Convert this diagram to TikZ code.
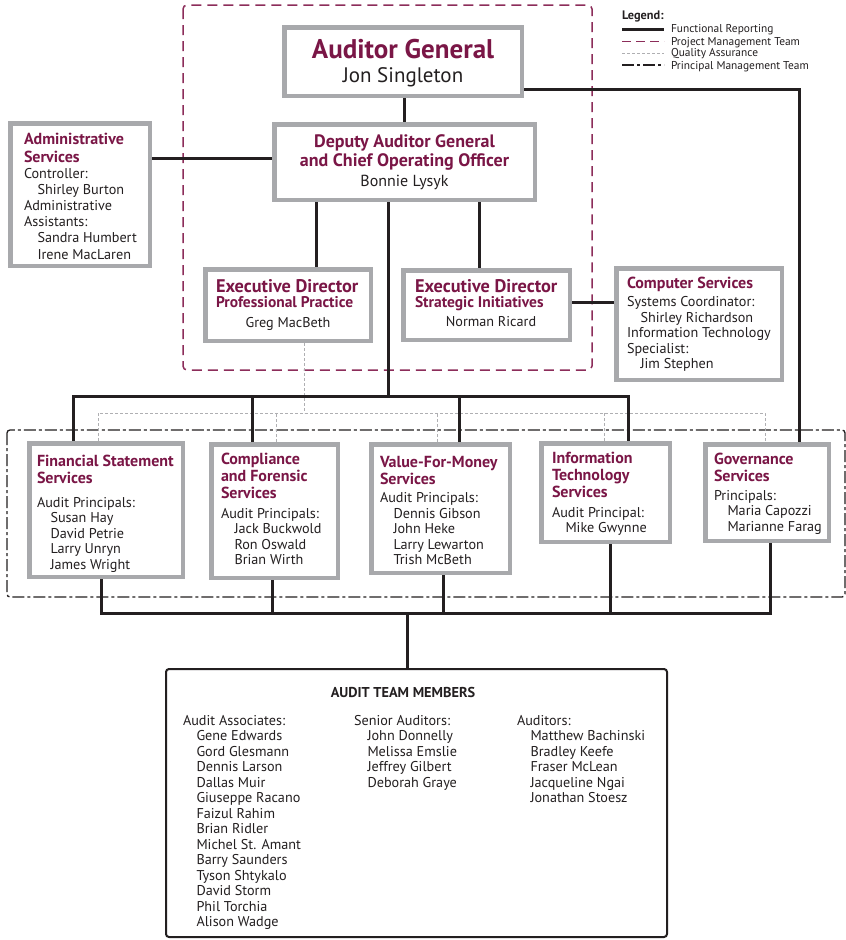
\documentclass[tikz,border=0pt]{standalone}
\usepackage{fontspec}
\setmainfont{PT Sans}
\definecolor{maroon}{RGB}{122,22,70}
\definecolor{pmtcol}{RGB}{140,45,90}
\definecolor{boxgray}{RGB}{168,169,172}
\definecolor{linek}{RGB}{35,31,32}
\definecolor{qagray}{RGB}{175,175,178}
\newcommand\tl[1]{\vtop{\hsize=300pt\parindent=0pt\parskip=0pt\lineskiplimit=-\maxdimen
  \leftskip=0pt\rightskip=0pt plus 1fil\parfillskip=0pt plus 1fil\let\\\par #1\par}}
\newcommand\tc[1]{\vtop{\hsize=300pt\parindent=0pt\parskip=0pt\lineskiplimit=-\maxdimen
  \leftskip=0pt plus 1fil\rightskip=0pt plus 1fil\parfillskip=0pt\let\\\par #1\par}}
\newcommand\ind{\hspace*{13.5pt}}
\newcommand\obox[5]{\node[gbox, minimum width={(#4-#2-4.5)*1pt}, minimum height={(#5-#3-4.5)*1pt}] (#1) at ({(#2+#4)/2},{(#3+#5)/2}) {};}
\tikzset{
  gbox/.style={draw=boxgray, line width=4.5pt, fill=white, inner sep=0pt, rectangle},
  func/.style={draw=linek, line width=3pt},
  pmt/.style={draw=pmtcol, line width=1.5pt, dash pattern=on 10pt off 6pt},
  qa/.style={draw=qagray, line width=1pt, dash pattern=on 3pt off 2pt},
  prin/.style={draw=linek, line width=1.3pt, dash pattern=on 12pt off 3pt on 3pt off 3pt},
  txt/.style={anchor=base west, inner sep=0pt, outer sep=0pt},
  ctxt/.style={anchor=base, inner sep=0pt, outer sep=0pt},
  ttl/.style={font=\fontsize{16}{17}\selectfont\bfseries, text=maroon},
  bdy/.style={font=\fontsize{14.2}{15.5}\selectfont, text=linek},
  leg/.style={font=\fontsize{11.4}{12.2}\selectfont, text=linek}
}
\begin{document}
\begin{tikzpicture}[x=1pt,y=-1pt]
\useasboundingbox (0,0) rectangle (846,940);
\fill[white] (0,0) rectangle (846,940);

% group frames
\draw[pmt, rounded corners=4pt] (183,5) rectangle (592,370);
\draw[prin, rounded corners=3pt] (7,430) rectangle (845,597);

% legend
\node[txt, font=\fontsize{12.3}{13}\selectfont\bfseries, text=linek] (legt) at (622,19.5) {Legend:};
\draw[func] (622,29) -- (664,29);
\draw[pmt, line width=1.8pt, dash pattern=on 9pt off 5pt] (622,41.5) -- (664,41.5);
\draw[qa] (622,53) -- (664,53);
\draw[prin] (622,65) -- (664,65);
\node[txt, leg] (leg1) at (671,32.5) {Functional Reporting};
\node[txt, leg] (leg2) at (671,45) {Project Management Team};
\node[txt, leg] (leg3) at (671,56.5) {Quality Assurance};
\node[txt, leg] (leg4) at (671,69) {Principal Management Team};

% coordinates
\coordinate (c73) at (73,396);
\coordinate (c252) at (252,396);
\coordinate (c388) at (388,396);
\coordinate (c459) at (459,396);
\coordinate (c628) at (628,396);
\coordinate (g799) at (799,89);
\coordinate (y158) at (0,158);
\coordinate (y302) at (0,302);
\coordinate (x404) at (404,0);
\coordinate (x316) at (316,0);
\coordinate (x479) at (479,0);
\coordinate (q304) at (304,413);
\coordinate (q98) at (98,413);
\coordinate (q276) at (276,413);
\coordinate (q437) at (437,413);
\coordinate (q604) at (604,413);
\coordinate (q765) at (765,413);
\coordinate (b101) at (101,613);
\coordinate (b272) at (272,613);
\coordinate (b443) at (443,613);
\coordinate (b610) at (610,613);
\coordinate (b770) at (770,613);
\coordinate (b407) at (407,613);

% boxes
\obox{ag}{282}{25}{524}{98}
\obox{dag}{272}{122}{537}{202}
\obox{adm}{8}{121}{152}{268}
\obox{pp}{203}{267}{373}{343}
\obox{si}{401}{268}{572}{342}
\obox{cs}{614}{266}{784}{382}
\obox{fss}{27}{441}{185}{579}
\obox{cfs}{209}{442}{340}{580}
\obox{vfm}{369}{442}{512}{575}
\obox{its}{539}{441}{672}{544}
\obox{gov}{703}{442}{831}{543}
\node[draw=linek, line width=2pt, rounded corners=3pt, fill=white, inner sep=0pt,
  minimum width=501pt, minimum height=268pt] (team) at (416.5,803) {};

% quality assurance
\draw[qa] (pp.south -| q304) -- (q304);
\draw[qa] (fss.north -| q98) -- (q98) -- (q765) -- (gov.north -| q765);
\draw[qa] (cfs.north -| q276) -- (q276);
\draw[qa] (vfm.north -| q437) -- (q437);
\draw[qa] (its.north -| q604) -- (q604);

% functional reporting
\draw[func] (ag.south -| x404) -- (dag.north -| x404);
\draw[func] (adm.east |- y158) -- (dag.west |- y158);
\draw[func] (dag.south -| x316) -- (pp.north -| x316);
\draw[func] (dag.south -| x479) -- (si.north -| x479);
\draw[func] (si.east |- y302) -- (cs.west |- y302);
\draw[func] (ag.east |- g799) -- (g799) -- (gov.north -| g799);
\draw[func] (dag.south -| c388) -- (c388);
\draw[func] (fss.north -| c73) -- (c73) -- (c628) -- (its.north -| c628);
\draw[func] (cfs.north -| c252) -- (c252);
\draw[func] (vfm.north -| c459) -- (c459);
\draw[func] (fss.south -| b101) -- (b101) -- (b770) -- (gov.south -| b770);
\draw[func] (cfs.south -| b272) -- (b272);
\draw[func] (vfm.south -| b443) -- (b443);
\draw[func] (its.south -| b610) -- (b610);
\draw[func] (b407) -- (team.north -| b407);

% Auditor General
\node[ctxt, font=\fontsize{27}{30}\selectfont\bfseries, text=maroon] (agt) at (403,58) {Auditor General};
\node[ctxt, font=\fontsize{21}{24}\selectfont, text=linek] (agn) at (403,82) {Jon Singleton};

% Deputy
\node[ctxt, font=\fontsize{18}{19}\selectfont\bfseries, text=maroon] (dagt) at (404.5,147) {\tc{Deputy Auditor General\\and Chief Operating Officer}};
\node[ctxt, font=\fontsize{16}{18}\selectfont, text=linek] (dagn) at (404.5,186) {Bonnie Lysyk};

% Administrative Services
\node[txt, font=\fontsize{16}{18}\selectfont\bfseries, text=maroon] (admt) at (24,144) {\tl{Administrative\\Services}};
\node[txt, font=\fontsize{14.2}{16.1}\selectfont, text=linek] (admb) at (24,178.5) {\tl{Controller:\\\ind Shirley Burton\\Administrative\\Assistants:\\\ind Sandra Humbert\\\ind Irene MacLaren}};

% Executive Directors
\node[txt, font=\fontsize{18.3}{20}\selectfont\bfseries, text=maroon] (ppt1) at (216,292) {Executive Director};
\node[txt, font=\fontsize{15.5}{17}\selectfont\bfseries, text=maroon] (ppt2) at (216,307) {Professional Practice};
\node[ctxt, font=\fontsize{14.2}{16}\selectfont, text=linek] (ppn) at (288,327) {Greg MacBeth};
\node[txt, font=\fontsize{18.3}{20}\selectfont\bfseries, text=maroon] (sit1) at (415,292) {Executive Director};
\node[txt, font=\fontsize{15.5}{17}\selectfont\bfseries, text=maroon] (sit2) at (415,307) {Strategic Initiatives};
\node[ctxt, font=\fontsize{14.2}{16}\selectfont, text=linek] (sin) at (491,326) {Norman Ricard};

% Computer Services
\node[txt, ttl] (cst) at (627,288) {Computer Services};
\node[txt, bdy] (csb) at (627,306.5) {\tl{Systems Coordinator:\\\ind Shirley Richardson\\Information Technology\\Specialist:\\\ind Jim Stephen}};

% Services
\node[txt, ttl] (fsst) at (37,466) {\tl{Financial Statement\\Services}};
\node[txt, bdy] (fssb) at (37,507) {\tl{Audit Principals:\\\ind Susan Hay\\\ind David Petrie\\\ind Larry Unryn\\\ind James Wright}};

\node[txt, ttl] (cfst) at (221,464) {\tl{Compliance\\and Forensic\\Services}};
\node[txt, bdy] (cfsb) at (221,518) {\tl{Audit Principals:\\\ind Jack Buckwold\\\ind Ron Oswald\\\ind Brian Wirth}};

\node[txt, ttl] (vfmt) at (380,467) {\tl{Value-For-Money\\Services}};
\node[txt, bdy] (vfmb) at (380,502.5) {\tl{Audit Principals:\\\ind Dennis Gibson\\\ind John Heke\\\ind Larry Lewarton\\\ind Trish McBeth}};

\node[txt, ttl] (itst) at (552,463) {\tl{Information\\Technology\\Services}};
\node[txt, bdy] (itsb) at (552,517) {\tl{Audit Principal:\\\ind Mike Gwynne}};

\node[txt, ttl] (govt) at (714,464) {\tl{Governance\\Services}};
\node[txt, bdy] (govb) at (714,500) {\tl{Principals:\\\ind Maria Capozzi\\\ind Marianne Farag}};

% Audit team
\node[ctxt, font=\fontsize{14.3}{16}\selectfont\bfseries, text=linek] (teamt) at (403,697) {AUDIT TEAM MEMBERS};
\node[txt, bdy] (teamc1) at (183,725) {\tl{Audit Associates:\\\ind Gene Edwards\\\ind Gord Glesmann\\\ind Dennis Larson\\\ind Dallas Muir\\\ind Giuseppe Racano\\\ind Faizul Rahim\\\ind Brian Ridler\\\ind Michel St. Amant\\\ind Barry Saunders\\\ind Tyson Shtykalo\\\ind David Storm\\\ind Phil Torchia\\\ind Alison Wadge}};
\node[txt, bdy] (teamc2) at (354,725) {\tl{Senior Auditors:\\\ind John Donnelly\\\ind Melissa Emslie\\\ind Jeffrey Gilbert\\\ind Deborah Graye}};
\node[txt, bdy] (teamc3) at (517,725) {\tl{Auditors:\\\ind Matthew Bachinski\\\ind Bradley Keefe\\\ind Fraser McLean\\\ind Jacqueline Ngai\\\ind Jonathan Stoesz}};
\end{tikzpicture}
\end{document}
